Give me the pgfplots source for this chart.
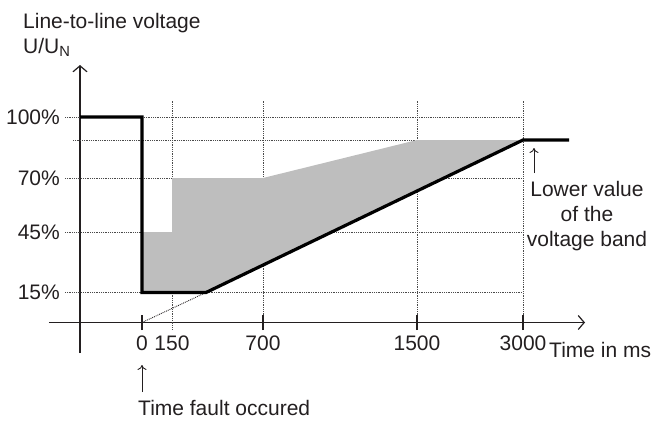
\documentclass[border=0pt]{standalone}
\usepackage{fontspec}
\setmainfont{Liberation Sans}
\usepackage{pgfplots}
\pgfplotsset{compat=1.18}
\usetikzlibrary{arrows.meta}
\definecolor{txt}{HTML}{231F20}
\definecolor{band}{HTML}{BEBEBE}
\definecolor{gridc}{HTML}{4A4A4A}
\begin{document}
\begin{tikzpicture}[font=\fontsize{21bp}{25bp}\selectfont, text=txt]
\begin{axis}[
  x=1bp, y=1bp,
  axis lines=middle,
  xmin=-31, xmax=505, ymin=-30.5, ymax=257.5,
  axis line style={line width=1.2bp, txt, -{Straight Barb[length=6bp,width=14bp,line width=1.2bp]}},
  clip=false,
  xtick={62,92,183,337,443},
  xticklabels={0,150,700,1500,3000},
  ytick={30,90.5,144.5,205.5},
  yticklabels={15\%,45\%,70\%,100\%},
  major tick length=0pt,
  /pgf/number format/assume math mode=true,
  xticklabel style={anchor=north, yshift=-13bp, inner sep=0pt, text=txt},
  yticklabel style={anchor=east, xshift=-20bp, inner sep=0pt, text=txt},
]
% grid lines
\addplot[gridc, densely dotted, line width=0.8bp] coordinates {(-15,205.5) (443,205.5)};
\addplot[gridc, densely dotted, line width=0.8bp] coordinates {(-7,182.5) (443,182.5)};
\addplot[gridc, densely dotted, line width=0.8bp] coordinates {(-15,144.5) (443,144.5)};
\addplot[gridc, densely dotted, line width=0.8bp] coordinates {(-15,90.5) (443,90.5)};
\addplot[gridc, densely dotted, line width=0.8bp] coordinates {(-15,30) (443,30)};
\addplot[gridc, densely dotted, line width=0.8bp] coordinates {(92,-7) (92,222.5)};
\addplot[gridc, densely dotted, line width=0.8bp] coordinates {(183,-7) (183,222.5)};
\addplot[gridc, densely dotted, line width=0.8bp] coordinates {(337,-7) (337,222.5)};
\addplot[gridc, densely dotted, line width=0.8bp] coordinates {(443,-7) (443,222.5)};
% grey band
\addplot[fill=band, draw=none] coordinates {(62,30) (62,90.5) (92,90.5) (92,144.5) (183,144.5) (337,182.5) (443,182.5) (126,30)} -- cycle;
% dotted diagonal from fault time
\addplot[txt, densely dotted, line width=0.9bp] coordinates {(62,0) (126,30)};
% tick marks
\addplot[txt, line width=1.2bp] coordinates {(62,-7.5) (62,7.5)};
\addplot[txt, line width=1.2bp] coordinates {(183,-7.5) (183,7.5)};
\addplot[txt, line width=1.2bp] coordinates {(337,-7.5) (337,7.5)};
\addplot[txt, line width=1.2bp] coordinates {(443,-7.5) (443,7.5)};
% voltage curve
\addplot[black, line width=3.2bp, line join=miter] coordinates {(0,205.5) (62,205.5) (62,30) (126,30) (443,182.5) (489,182.5)};
% annotation arrows
\addplot[txt, line width=0.9bp, -{To[length=5bp,width=9bp]}] coordinates {(62,-69.5) (62,-42.5)};
\addplot[txt, line width=0.9bp, -{To[length=5bp,width=9bp]}] coordinates {(454,149.5) (454,174.5)};
% texts
\node[anchor=base west, inner sep=0pt] at (axis cs:-57,294.5) {Line-to-line voltage};
\node[anchor=base west, inner sep=0pt] at (axis cs:-57,269.5) {U/U\textsubscript{N}};
\node[anchor=base west, inner sep=0pt] at (axis cs:469,-34.5) {Time in ms};
\node[anchor=base west, inner sep=0pt] at (axis cs:58,-92.5) {Time fault occured};
\node[anchor=base, inner sep=0pt] at (axis cs:507,125.8) {Lower value};
\node[anchor=base, inner sep=0pt] at (axis cs:507,101.1) {of the};
\node[anchor=base, inner sep=0pt] at (axis cs:507,76.4) {voltage band};
\coordinate (bl) at (axis cs:-80,-97.5);
\coordinate (tr) at (axis cs:579,322.5);
\end{axis}
\pgfresetboundingbox
\path (bl) rectangle (tr);
\end{tikzpicture}
\end{document}
